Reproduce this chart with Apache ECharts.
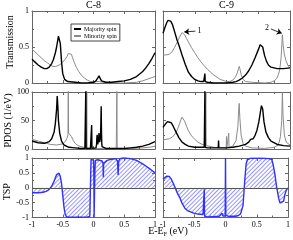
<!DOCTYPE html>
<html><head><meta charset="utf-8">
<script src="https://cdn.jsdelivr.net/npm/echarts@6/dist/echarts.min.js"></script>
<style>html,body{margin:0;padding:0;background:#fff}#c{width:293px;height:240px}</style>
</head><body><div id="c"></div>
<script>
// ---------- data ----------
const panelTitles = ['C-8', 'C-9'];
const rowNames = ['Transmission', 'PDOS (1/eV)', 'TSP'];
const seriesNames = ['Majority spin', 'Minority spin'];
const xTickLabels = [-1, -0.5, 0, 0.5, 1];

// Transmission C-8
const c8TmajX = [-1,-0.95,-0.9,-0.85,-0.8,-0.76,-0.72,-0.68,-0.65,-0.62,-0.6,-0.58,-0.57,-0.56,-0.55,-0.54,-0.52,-0.5,-0.47,-0.42,-0.3,-0.2,-0.1,0,0.04,0.07,0.09,0.1,0.11,0.13,0.16,0.2,0.3,0.4,0.5,0.6,0.7,0.8,0.85,0.9,0.95,1];
const c8TmajY = [0.33,0.29,0.25,0.22,0.2,0.2,0.22,0.27,0.33,0.42,0.5,0.6,0.65,0.67,0.64,0.55,0.3,0.13,0.05,0.02,0.01,0,0,0.01,0.03,0.07,0.1,0.09,0.06,0.03,0.02,0.01,0.01,0.02,0.03,0.05,0.09,0.16,0.21,0.27,0.34,0.42];
const c8TminX = [-1,-0.9,-0.8,-0.75,-0.7,-0.66,-0.62,-0.58,-0.54,-0.5,-0.46,-0.43,-0.41,-0.39,-0.38,-0.36,-0.34,-0.31,-0.28,-0.24,-0.2,-0.15,-0.1,-0.05,0,0.05,0.08,0.1,0.15,0.3,0.5,0.7,0.8,0.9,1];
const c8TminY = [0.47,0.39,0.31,0.28,0.25,0.23,0.23,0.24,0.26,0.29,0.33,0.37,0.41,0.43,0.43,0.4,0.35,0.28,0.22,0.16,0.11,0.07,0.04,0.02,0.01,0.02,0.04,0.02,0.01,0,0,0.01,0.03,0.06,0.09];
// Transmission C-9
const c9TmajX = [-1,-0.97,-0.94,-0.92,-0.9,-0.88,-0.85,-0.82,-0.78,-0.74,-0.7,-0.65,-0.6,-0.55,-0.5,-0.45,-0.4,-0.36,-0.345,-0.34,-0.335,-0.3,-0.2,-0.1,0,0.1,0.15,0.2,0.25,0.3,0.35,0.4,0.45,0.5,0.53,0.55,0.57,0.6,0.63,0.66,0.7,0.8,0.9,1];
const c9TmajY = [0.69,0.77,0.84,0.87,0.88,0.86,0.81,0.72,0.6,0.5,0.39,0.26,0.15,0.09,0.05,0.03,0.02,0.02,0.02,0.13,0.02,0.01,0,0,0,0.01,0.02,0.04,0.07,0.11,0.17,0.25,0.35,0.46,0.53,0.55,0.5,0.38,0.3,0.25,0.22,0.2,0.2,0.21];
const c9TminX = [-1,-0.95,-0.9,-0.86,-0.82,-0.78,-0.75,-0.72,-0.7,-0.69,-0.68,-0.66,-0.63,-0.6,-0.55,-0.5,-0.45,-0.4,-0.3,-0.2,-0.1,0,0.05,0.1,0.14,0.17,0.19,0.2,0.21,0.23,0.26,0.3,0.4,0.6,0.7,0.75,0.79,0.82,0.84,0.86,0.87,0.88,0.89,0.91,0.94,0.97,1];
const c9TminY = [0.39,0.39,0.4,0.43,0.49,0.56,0.62,0.67,0.7,0.71,0.7,0.67,0.62,0.57,0.49,0.42,0.35,0.29,0.19,0.11,0.05,0.02,0.02,0.04,0.08,0.14,0.2,0.23,0.2,0.12,0.05,0.02,0.01,0,0.01,0.03,0.06,0.12,0.2,0.35,0.5,0.67,0.55,0.4,0.3,0.24,0.21];
// PDOS C-8
const p8majX = [-1,-0.9,-0.8,-0.72,-0.68,-0.64,-0.62,-0.6,-0.59,-0.58,-0.57,-0.55,-0.52,-0.48,-0.4,-0.3,-0.2,-0.14,-0.13,-0.125,-0.12,-0.11,-0.05,-0.035,-0.03,-0.025,0,0.04,0.05,0.055,0.06,0.07,0.085,0.09,0.095,0.1,0.115,0.125,0.13,0.135,0.14,0.15,0.2,0.3,0.4,0.5,0.6,0.7,0.8,0.9,1];
const p8majY = [14,11,10,13,18,30,45,70,93,75,50,28,14,7,3,2,1,1,1,105,1,1,1,1,42,1,1,2,8,20,25,8,20,28,30,12,20,75,30,8,4,2,1,1,1,1,2,3,5,8,13];
const p8minX = [-1,-0.9,-0.8,-0.7,-0.6,-0.5,-0.46,-0.43,-0.415,-0.41,-0.405,-0.4,-0.38,-0.36,-0.33,-0.3,-0.25,-0.2,-0.15,-0.115,-0.11,-0.105,-0.05,0,0.2,0.37,0.375,0.38,0.385,0.4,0.6,0.8,0.9,1];
const p8minY = [17,14,11,8,7,9,13,19,25,105,28,30,28,22,15,10,6,4,3,2,105,2,1,1,1,1,1,105,1,1,1,2,3,5];
// PDOS C-9
const p9majX = [-1,-0.96,-0.93,-0.9,-0.87,-0.84,-0.8,-0.75,-0.7,-0.65,-0.6,-0.5,-0.4,-0.35,-0.345,-0.34,-0.335,-0.33,-0.3,-0.2,-0.13,-0.125,-0.12,-0.1,0,0.1,0.2,0.3,0.35,0.38,0.4,0.42,0.45,0.48,0.51,0.53,0.55,0.56,0.57,0.59,0.62,0.66,0.7,0.8,0.9,1];
const p9majY = [38,44,48,49,46,40,31,20,12,8,5,3,3,3,3,105,3,3,2,2,2,15,2,2,2,3,5,8,12,17,20,18,24,33,48,62,76,78,70,48,30,20,14,8,6,5];
const p9minX = [-1,-0.9,-0.85,-0.8,-0.77,-0.74,-0.72,-0.7,-0.68,-0.66,-0.63,-0.6,-0.55,-0.5,-0.45,-0.4,-0.35,-0.33,-0.325,-0.32,-0.3,-0.2,-0.1,-0.005,0,0.005,0.03,0.035,0.04,0.1,0.15,0.18,0.19,0.2,0.21,0.23,0.26,0.3,0.4,0.6,0.75,0.8,0.83,0.85,0.87,0.88,0.89,0.91,0.94,1];
const p9minY = [16,18,21,28,35,44,51,56,55,49,40,32,23,17,12,9,7,6,100,6,5,3,2,2,22,2,3,28,3,5,15,40,65,80,55,25,10,5,2,1,3,6,12,22,50,99,60,25,12,7];
// TSP
const t8X = [-1,-0.9,-0.82,-0.77,-0.73,-0.7,-0.68,-0.65,-0.62,-0.6,-0.58,-0.57,-0.56,-0.54,-0.52,-0.5,-0.48,-0.46,-0.44,-0.4,-0.3,-0.2,-0.1,-0.06,-0.05,-0.045,-0.04,-0.02,0,0.006,0.01,0.016,0.022,0.03,0.05,0.07,0.1,0.14,0.155,0.16,0.165,0.18,0.22,0.3,0.36,0.39,0.4,0.41,0.43,0.47,0.52,0.6,0.7,0.8,0.85,0.9,0.95,1];
const t8Y = [-0.17,-0.17,-0.15,-0.12,-0.07,-0.02,0.05,0.18,0.34,0.44,0.5,0.51,0.49,0.38,0.15,-0.25,-0.65,-0.9,-0.97,-0.99,-0.99,-0.99,-0.98,-0.96,-0.9,0.5,0.95,0.98,0.93,0.4,-0.99,-0.99,0.5,0.92,0.96,0.94,0.92,0.9,0.82,0.35,0.82,0.88,0.92,0.96,0.98,0.9,0.43,0.9,0.98,1,1,0.98,0.92,0.8,0.73,0.66,0.58,0.5];
const t9X = [-1,-0.97,-0.94,-0.92,-0.9,-0.87,-0.84,-0.8,-0.77,-0.73,-0.7,-0.65,-0.6,-0.55,-0.5,-0.45,-0.4,-0.36,-0.345,-0.34,-0.335,-0.33,-0.3,-0.2,-0.1,-0.07,-0.055,-0.04,-0.02,-0.005,0,0.005,0.01,0.05,0.1,0.15,0.2,0.22,0.24,0.26,0.28,0.29,0.31,0.33,0.35,0.37,0.4,0.5,0.6,0.7,0.74,0.76,0.79,0.82,0.85,0.87,0.9,0.93,0.95,0.97,1];
const t9Y = [0.29,0.35,0.39,0.4,0.38,0.3,0.17,-0.03,-0.18,-0.34,-0.5,-0.69,-0.78,-0.82,-0.86,-0.88,-0.89,-0.9,-0.9,-0.05,-0.95,-0.98,-0.98,-0.97,-0.96,-0.95,-0.86,-0.95,-0.96,-0.95,1,-0.93,-0.95,-0.96,-0.96,-0.96,-0.94,-0.92,-0.88,-0.82,-0.6,-0.3,0.3,0.8,0.95,0.98,0.99,0.99,0.99,0.98,0.95,0.8,0.46,0,-0.35,-0.51,-0.55,-0.45,-0.23,-0.1,0];

// annotation arrows on C-9 transmission: [label, tailX, tailY, headX, headY]
const arrowNotes = [['1', -0.49, 0.72, -0.665, 0.71], ['2', 0.70, 0.75, 0.87, 0.69]];

// ---------- chart ----------
const zip = (xs, ys) => xs.map((x, i) => [x, ys[i]]);
const FONT = 'Liberation Serif';
const AX = '#666';
const BLUE = '#3030ff';
const HATCH_DECAL = {
  symbol: 'rect', symbolSize: 1, color: 'rgba(80,80,255,0.6)', backgroundColor: 'rgba(255,255,255,0)',
  dashArrayX: [1, 0], dashArrayY: [1, 1.8], rotation: -Math.PI / 4
};
const grids = [
  {left: 32, top: 11, width: 123, height: 72},
  {left: 163, top: 11, width: 127, height: 72},
  {left: 32, top: 92, width: 123, height: 57},
  {left: 163, top: 92, width: 127, height: 57},
  {left: 32, top: 158, width: 123, height: 59.5},
  {left: 163, top: 158, width: 127, height: 59.5}
];
const yCfg = [{min: 0, max: 1, interval: 0.5}, {min: 0, max: 100, interval: 50}, {min: -1, max: 1, interval: 0.5}];
const xAxes = [], yAxes = [];
const tick = {show: true, inside: true, length: 3, lineStyle: {color: AX, width: 1}};
const minor = {show: true, splitNumber: 2, length: 2, lineStyle: {color: AX, width: 1}};
const line = {show: true, onZero: false, lineStyle: {color: AX, width: 1}};
grids.forEach((g, i) => {
  const row = Math.floor(i / 2), col = i % 2;
  ['bottom', 'top'].forEach(pos => xAxes.push({
    type: 'value', gridIndex: i, position: pos, min: -1, max: 1, interval: 0.5,
    axisLine: line, axisTick: tick, minorTick: minor, splitLine: {show: false},
    axisLabel: {show: pos === 'bottom' && row === 2, fontFamily: FONT, fontSize: 8, color: '#000', margin: 3}
  }));
  ['left', 'right'].forEach(pos => yAxes.push(Object.assign({
    type: 'value', gridIndex: i, position: pos,
    axisLine: line, axisTick: tick, minorTick: minor, splitLine: {show: false},
    axisLabel: {show: pos === 'left' && col === 0, fontFamily: FONT, fontSize: 8, color: '#000', margin: 3},
    name: (pos === 'left' && col === 0) ? rowNames[row] : '',
    nameLocation: 'middle', nameGap: 14,
    nameTextStyle: {fontFamily: FONT, fontSize: 10, color: '#000',
      padding: row === 0 ? [0, 0, 0, 10] : row === 2 ? [0, 8, 0, 0] : 0}
  }, yCfg[row])));
});
const series = [];
function add(gi, name, xs, ys, extra) {
  series.push(Object.assign({
    type: 'line', name, xAxisIndex: 2 * gi, yAxisIndex: 2 * gi,
    data: zip(xs, ys), showSymbol: false, symbol: 'none', animation: false,
    color: name === seriesNames[0] ? '#000' : '#8a8a8a',
    lineStyle: {width: name === seriesNames[0] ? 1.4 : 1}
  }, extra || {}));
}
add(0, seriesNames[1], c8TminX, c8TminY);
add(0, seriesNames[0], c8TmajX, c8TmajY);
add(1, seriesNames[1], c9TminX, c9TminY, {
  markLine: {
    silent: true, animation: false, symbol: ['none', 'arrow'], symbolSize: 5,
    lineStyle: {color: '#000', width: 0.8, type: 'solid'},
    label: {show: true, position: 'start', formatter: '{b}', fontFamily: FONT, fontSize: 8, color: '#000', distance: 2},
    data: arrowNotes.map(a => [{name: a[0], coord: [a[1], a[2]]}, {coord: [a[3], a[4]]}])
  }
});
add(1, seriesNames[0], c9TmajX, c9TmajY);
add(2, seriesNames[1], p8minX, p8minY);
add(2, seriesNames[0], p8majX, p8majY);
add(3, seriesNames[1], p9minX, p9minY);
add(3, seriesNames[0], p9majX, p9majY);
[[4, t8X, t8Y], [5, t9X, t9Y]].forEach(([gi, xs, ys]) => series.push({
  type: 'line', name: 'TSP', xAxisIndex: 2 * gi, yAxisIndex: 2 * gi,
  data: zip(xs, ys), showSymbol: false, symbol: 'none', animation: false,
  itemStyle: {color: BLUE, decal: HATCH_DECAL}, lineStyle: {width: 1.4, color: BLUE},
  areaStyle: {color: 'rgba(255,255,255,0)', opacity: 1},
  markLine: {silent: true, animation: false, symbol: 'none', label: {show: false},
    lineStyle: {color: '#555', width: 1, type: 'solid'}, data: [{yAxis: 0}]}
}));

const chart = echarts.init(document.getElementById('c'), null, {renderer: 'canvas'});
chart.setOption({
  animation: false,
  backgroundColor: '#fff',
  aria: {enabled: false, decal: {show: false}},
  title: [
    {text: panelTitles[0], left: 93.5, top: 0, padding: 0, textAlign: 'center', textStyle: {fontFamily: FONT, fontSize: 10, fontWeight: 'normal', color: '#000'}},
    {text: panelTitles[1], left: 226.5, top: 0, padding: 0, textAlign: 'center', textStyle: {fontFamily: FONT, fontSize: 10, fontWeight: 'normal', color: '#000'}},
    {text: '{a|E-E}{b|F}{a| (eV)}', left: 168, top: 226, padding: 0, textAlign: 'center',
      textStyle: {fontFamily: FONT, fontSize: 10, fontWeight: 'normal', color: '#000',
        rich: {a: {fontFamily: FONT, fontSize: 10, color: '#000'}, b: {fontFamily: FONT, fontSize: 6, color: '#000', padding: [5, 0, 0, 0]}}}}
  ],
  legend: {
    data: seriesNames, orient: 'vertical', left: 71, top: 24, padding: [2, 3, 2, 3], itemGap: 1,
    itemWidth: 7, itemHeight: 2, icon: 'rect', borderColor: '#444', borderWidth: 1,
    textStyle: {fontFamily: FONT, fontSize: 6, color: '#000', padding: [0, 0, 0, -2]}
  },
  grid: grids,
  xAxis: xAxes,
  yAxis: yAxes,
  series
});
</script></body></html>
